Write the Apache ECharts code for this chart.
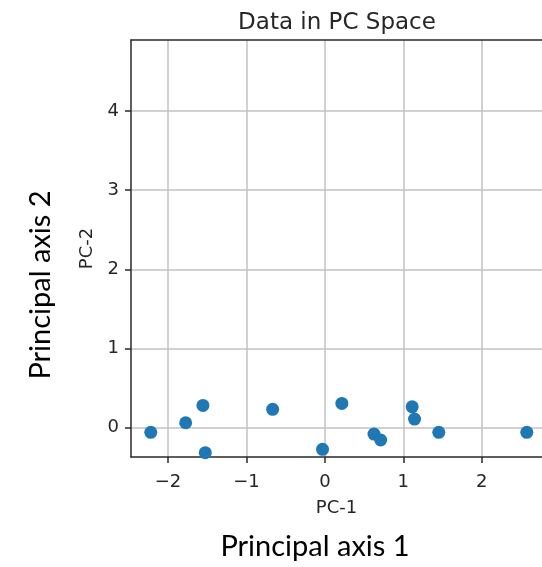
<!DOCTYPE html>
<html>
<head>
<meta charset="utf-8">
<script src="https://cdn.jsdelivr.net/npm/echarts@6/dist/echarts.min.js"></script>
<style>
html,body{margin:0;padding:0;background:#fff;}
#chart{width:542px;height:567px;}
</style>
</head>
<body>
<div id="chart"></div>
<script>
// Data
var pc1 = [-2.22, -1.775, -1.555, -1.525, -0.666, -0.03, 0.216, 0.626, 0.711, 1.113, 1.143, 1.452, 2.574];
var pc2 = [-0.063, 0.058, 0.278, -0.32, 0.228, -0.278, 0.303, -0.085, -0.16, 0.26, 0.105, -0.063, -0.063];
var xTicks = [-2, -1, 0, 1, 2];
var yTicks = [0, 1, 2, 3, 4];
var xRange = [-2.472, 2.768];
var yRange = [-0.375, 4.9];
var titleText = 'Data in PC Space';
var xName = 'PC-1';
var yName = 'PC-2';
var outerX = 'Principal axis 1';
var outerY = 'Principal axis 2';

var points = pc1.map(function (v, i) { return [v, pc2[i]]; });
function fmt(v) { return v < 0 ? '\u2212' + Math.abs(v) : String(v); }

var spine = { color: '#2a2a2a', width: 1.5 };
var gridLine = { color: '#c2c2c2', width: 1.5 };
var tickFont = { fontFamily: 'DejaVu Sans', fontSize: 18, color: '#262626' };

var chart = echarts.init(document.getElementById('chart'), null, { renderer: 'canvas' });
chart.setOption({
  animation: false,
  backgroundColor: '#ffffff',
  title: {
    text: titleText,
    left: 332,
    top: 7,
    textAlign: 'center',
    textStyle: { fontFamily: 'DejaVu Sans', fontSize: 23, fontWeight: 'normal', color: '#262626' }
  },
  grid: { left: 131, right: -3, top: 40, bottom: 110, containLabel: false },
  xAxis: [{
    type: 'value',
    min: xRange[0], max: xRange[1],
    name: xName, nameLocation: 'middle', nameGap: 42,
    nameTextStyle: tickFont,
    axisLine: { show: true, onZero: false, lineStyle: spine },
    axisTick: { show: true, length: 6, customValues: xTicks, lineStyle: spine },
    axisLabel: { customValues: xTicks, formatter: fmt, margin: 16, fontFamily: 'DejaVu Sans', fontSize: 18, color: '#262626' },
    splitLine: { show: true, lineStyle: gridLine }
  }, {
    type: 'value', position: 'top', z: 10,
    min: xRange[0], max: xRange[1],
    axisLine: { show: true, onZero: false, lineStyle: spine },
    axisTick: { show: false }, axisLabel: { show: false }, splitLine: { show: false }
  }],
  yAxis: {
    type: 'value',
    min: yRange[0], max: yRange[1],
    name: yName, nameLocation: 'middle', nameGap: 35, nameRotate: 90,
    nameTextStyle: tickFont,
    axisLine: { show: true, onZero: false, lineStyle: spine },
    axisTick: { show: true, length: 6, customValues: yTicks, lineStyle: spine },
    axisLabel: { customValues: yTicks, formatter: fmt, margin: 12, fontFamily: 'DejaVu Sans', fontSize: 18, color: '#262626' },
    splitLine: { show: true, lineStyle: gridLine }
  },
  series: [{
    type: 'scatter',
    xAxisIndex: 0,
    data: points,
    symbol: 'circle',
    symbolSize: 13,
    itemStyle: { color: '#1f77b4', opacity: 1 }
  }],
  graphic: [{
    type: 'text', x: 315, y: 547,
    style: { text: outerX, fontFamily: 'Lato', fontSize: 29, fill: '#000', textAlign: 'center', textVerticalAlign: 'middle' }
  }, {
    type: 'text', x: 41, y: 285, rotation: Math.PI / 2,
    style: { text: outerY, fontFamily: 'Lato', fontSize: 29, fill: '#000', textAlign: 'center', textVerticalAlign: 'middle' }
  }]
});
</script>
</body>
</html>
